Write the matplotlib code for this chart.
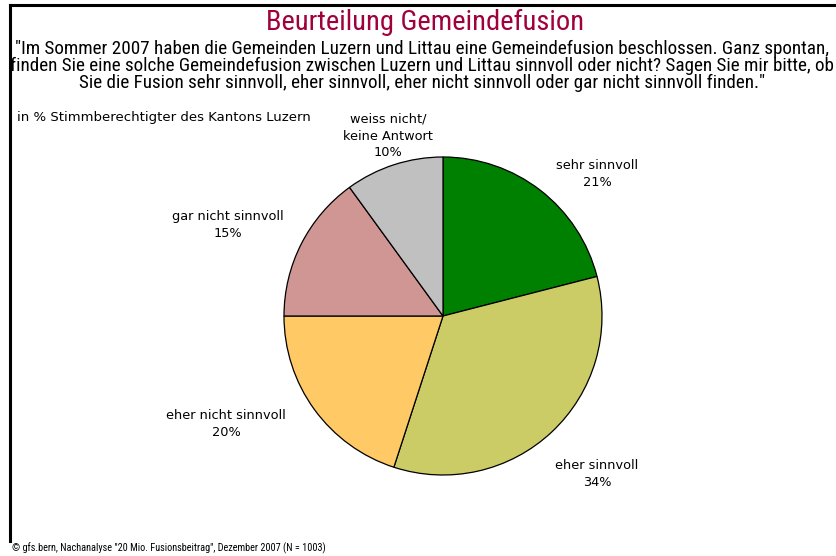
import matplotlib
matplotlib.use("Agg")
import matplotlib.pyplot as plt
from matplotlib.lines import Line2D
from matplotlib import font_manager

categories = ["sehr sinnvoll", "eher sinnvoll", "eher nicht sinnvoll", "gar nicht sinnvoll", "weiss nicht/\nkeine Antwort"]
values = [21, 34, 20, 15, 10]
colors = ["#008000", "#CCCC66", "#FFC966", "#D09694", "#C0C0C0"]

W, H = 836, 556
fig = plt.figure(figsize=(W / 100, H / 100), dpi=100)

def px(x, y):
    return x / W, 1 - y / H

names = {f.name for f in font_manager.fontManager.ttflist}
narrow_name = None
for cand in ["Roboto Condensed", "Liberation Sans Narrow", "Arial Narrow", "Open Sans Condensed"]:
    if cand in names:
        narrow_name = cand
        break

if narrow_name:
    narrow = [narrow_name, "DejaVu Sans"]
    t_size, s_size, f_size = 20.5, 13.8, 7.4
else:
    narrow = ["Liberation Sans", "DejaVu Sans"]
    t_size, s_size, f_size = 18.2, 12, 6.5
lab = ["DejaVu Sans"]

# frame lines
fig.add_artist(Line2D([9.5 / W, 1.0], [1 - 5 / H, 1 - 5 / H], transform=fig.transFigure, color="black", lw=2.2))
fig.add_artist(Line2D([9.5 / W, 9.5 / W], [1 - 5 / H, 1 - 541 / H], transform=fig.transFigure, color="black", lw=2.2))

fig.text(*px(425, 22), "Beurteilung Gemeindefusion", ha="center", va="center",
         fontsize=t_size, color="#A0003C", family=narrow)
sub = ('"Im Sommer 2007 haben die Gemeinden Luzern und Littau eine Gemeindefusion beschlossen. Ganz spontan,\n'
       'finden Sie eine solche Gemeindefusion zwischen Luzern und Littau sinnvoll oder nicht? Sagen Sie mir bitte, ob\n'
       'Sie die Fusion sehr sinnvoll, eher sinnvoll, eher nicht sinnvoll oder gar nicht sinnvoll finden."')
fig.text(*px(422, 66), sub, ha="center", va="center", fontsize=s_size, family=narrow, linespacing=0.95)
fig.text(*px(17, 117), "in % Stimmberechtigter des Kantons Luzern", ha="left", va="center",
         fontsize=9.5, family=lab)
fig.text(*px(12, 548), '© gfs.bern, Nachanalyse "20 Mio. Fusionsbeitrag", Dezember 2007 (N = 1003)',
         ha="left", va="center", fontsize=f_size, family=narrow)

cx, cy, r = 443, 316, 159
ax = fig.add_axes([(cx - r) / W, (H - cy - r) / H, 2 * r / W, 2 * r / H])
ax.pie(values, colors=colors, startangle=90, counterclock=False, radius=1,
       wedgeprops=dict(edgecolor="black", linewidth=0.9))
ax.set_xlim(-1, 1)
ax.set_ylim(-1, 1)
ax.set_aspect("equal")
ax.axis("off")

label_pos = [(597, 174), (597, 474), (226, 424), (228, 225), (388, 136)]
for (x, y), c, v in zip(label_pos, categories, values):
    fig.text(*px(x, y), f"{c}\n{v}%", ha="center", va="center", fontsize=9.3,
             family=lab, linespacing=1.37)

fig.savefig("out.png", dpi=100)
